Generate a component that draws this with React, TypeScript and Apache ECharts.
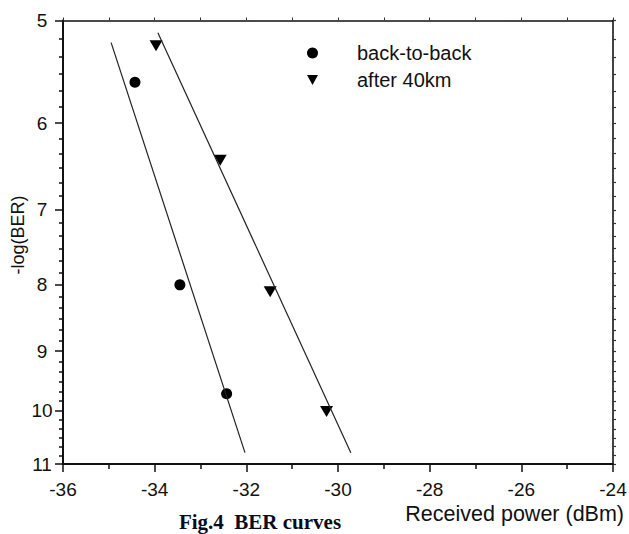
import React, { useEffect, useRef } from "react";
import * as echarts from "echarts";

const b2bX = [-34.43, -33.45, -32.43];
const b2bY = [5.58, 8.0, 9.71];
const km40X = [-33.97, -32.57, -31.48, -30.25];
const km40Y = [5.23, 6.41, 8.1, 10.02];
const fit1X = [-34.95, -32.03];
const fit1Y = [5.2, 10.78];
const fit2X = [-33.93, -29.72];
const fit2Y = [5.11, 10.78];
const yMajor = [5, 6, 7, 8, 9, 10, 11];
const yMinor = [5, 6, 7, 8, 9, 10].flatMap((v) => [1, 2, 3, 4, 5].map((k) => v + k / 6));
const legendNames = ["back-to-back", "after 40km"];

const FONT = '"Liberation Sans", Arial, sans-serif';

export default function App() {
  const ref = useRef<HTMLDivElement>(null);
  useEffect(() => {
    if (!ref.current) return;
    const chart = echarts.init(ref.current, undefined, { renderer: "svg" });
    const zip = (xs: number[], ys: number[]) => xs.map((x, i) => [x, ys[i]]);
    const yBase = {
      type: "log",
      logBase: 10,
      min: 5,
      max: 11,
      inverse: true,
      splitLine: { show: false },
      minorSplitLine: { show: false },
    };
    chart.setOption({
      animation: false,
      backgroundColor: "#fff",
      grid: { left: 63, right: 16, top: 20.5, bottom: 70, containLabel: false, outerBoundsMode: "none" },
      legend: {
        data: legendNames,
        orient: "vertical",
        left: 302,
        top: 38,
        itemWidth: 11,
        itemHeight: 11,
        itemGap: 7,
        itemStyle: { opacity: 1 },
        textStyle: { fontFamily: FONT, fontSize: 20, color: "#111", lineHeight: 20, padding: [0, 0, 0, 34] },
      },
      xAxis: [
        {
          type: "value",
          position: "bottom",
          min: -36,
          max: -24,
          interval: 2,
          axisLine: { show: true, onZero: false, lineStyle: { color: "#111", width: 2 } },
          axisTick: { show: true, length: 8, lineStyle: { color: "#111", width: 1.5 } },
          minorTick: { show: true, splitNumber: 2, length: 5, lineStyle: { color: "#111", width: 1.5 } },
          splitLine: { show: false },
          axisLabel: { fontFamily: FONT, fontSize: 19, color: "#111", margin: 16 },
        },
        {
          type: "value",
          position: "top",
          min: -36,
          max: -24,
          interval: 1,
          axisLine: { show: true, onZero: false, lineStyle: { color: "#111", width: 1.5 } },
          axisTick: { show: true, length: 3, lineStyle: { color: "#333", width: 1 } },
          splitLine: { show: false },
          axisLabel: { show: false },
        },
      ],
      yAxis: [
        {
          ...yBase,
          position: "left",
          axisLine: { show: true, onZero: false, lineStyle: { color: "#111", width: 2 } },
          axisTick: { show: true, length: 8, customValues: yMajor, lineStyle: { color: "#111", width: 1.5 } },
          axisLabel: {
            customValues: yMajor,
            fontFamily: FONT,
            fontSize: 19,
            color: "#111",
            align: "center",
            margin: 21,
            formatter: (v: number) => String(Math.round(v)),
          },
        },
        {
          ...yBase,
          position: "left",
          axisLine: { show: false },
          axisTick: { show: true, length: 4, customValues: yMinor, lineStyle: { color: "#111", width: 1.5 } },
          axisLabel: { show: false },
        },
        {
          ...yBase,
          position: "right",
          axisLine: { show: true, onZero: false, lineStyle: { color: "#444", width: 2 } },
          axisTick: { show: true, length: 3, customValues: [...yMajor, ...yMinor], lineStyle: { color: "#333", width: 1.2 } },
          axisLabel: { show: false },
        },
      ],
      series: [
        {
          name: legendNames[0],
          type: "scatter",
          data: zip(b2bX, b2bY),
          symbol: "circle",
          symbolSize: 11,
          itemStyle: { color: "#000", opacity: 1 },
        },
        {
          name: legendNames[1],
          type: "scatter",
          data: zip(km40X, km40Y),
          symbol: "path://M0,0L10,0L5,9Z",
          symbolSize: [13, 11],
          itemStyle: { color: "#000", opacity: 1 },
        },
        {
          name: "fit1",
          type: "line",
          data: zip(fit1X, fit1Y),
          symbol: "none",
          silent: true,
          lineStyle: { color: "#222", width: 1.2 },
        },
        {
          name: "fit2",
          type: "line",
          data: zip(fit2X, fit2Y),
          symbol: "none",
          silent: true,
          lineStyle: { color: "#222", width: 1.2 },
        },
      ],
      graphic: [
        {
          type: "text",
          x: 18,
          y: 235,
          rotation: Math.PI / 2,
          style: {
            text: "-log(BER)",
            font: `18px ${FONT}`,
            fill: "#111",
            align: "center",
            verticalAlign: "middle",
            textAlign: "center",
            textVerticalAlign: "middle",
          },
        },
        {
          type: "text",
          x: 624,
          y: 514,
          style: {
            text: "Received power (dBm)",
            font: `21.5px ${FONT}`,
            fill: "#111",
            align: "right",
            verticalAlign: "middle",
            textAlign: "right",
            textVerticalAlign: "middle",
          },
        },
        {
          type: "text",
          x: 260,
          y: 522,
          style: {
            text: "Fig.4  BER curves",
            font: 'bold 21px "Liberation Serif", "Times New Roman", serif',
            fill: "#0b0b20",
            align: "center",
            verticalAlign: "middle",
            textAlign: "center",
            textVerticalAlign: "middle",
          },
        },
      ],
    });
    return () => chart.dispose();
  }, []);
  return <div ref={ref} style={{ position: "fixed", left: 0, top: 0, width: 629, height: 534 }} />;
}
